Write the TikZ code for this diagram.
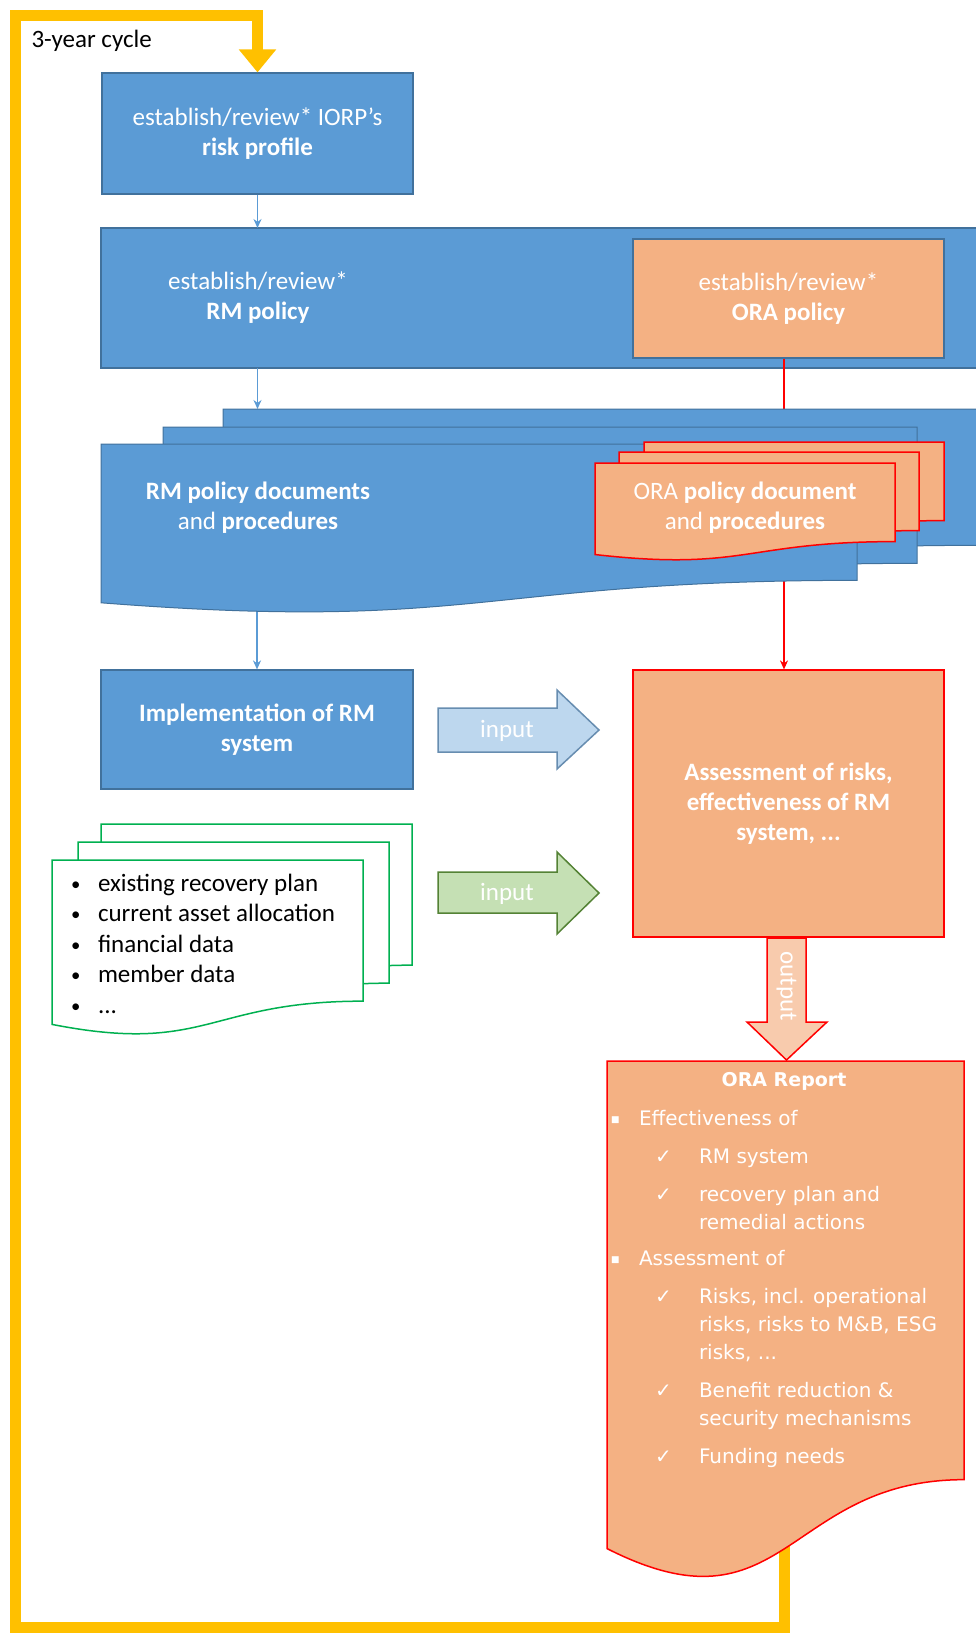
\documentclass[tikz,border=0pt]{standalone}
\usepackage{fontspec}
\setmainfont{Carlito}
\newfontfamily\repfont{DejaVu Sans}
\usetikzlibrary{arrows.meta,calc}

\definecolor{boxblue}{HTML}{5B9BD5}
\definecolor{edgeblue}{HTML}{41719C}
\definecolor{oraorange}{HTML}{F4B183}
\definecolor{paleorange}{HTML}{F8CBAD}
\definecolor{inblue}{HTML}{BDD7EE}
\definecolor{ingreen}{HTML}{C5E0B4}
\definecolor{darkgreen}{HTML}{548235}
\definecolor{docgreen}{HTML}{00B050}
\definecolor{loopyellow}{HTML}{FFC000}

% document outline drawn round a holder node
\newcommand{\docpath}[2]{%
	\path[#1] (#2.north west) -- (#2.north east)
		-- ($(#2.north east)!0.802!(#2.south east)$)
		.. controls ($(#2.north)!0.802!(#2.south)$) and ($(#2.north)!1.1075!(#2.south)$)
		.. ($(#2.north west)!0.934!(#2.south west)$) -- cycle;}
\newcommand{\bul}{\makebox[29pt][l]{\hspace{2pt}\raisebox{1pt}{\scalebox{0.75}{•}}}}
\newcommand{\sqb}{\makebox[32pt][l]{\hspace{4pt}\raisebox{3pt}{\scalebox{0.45}{■}}}}
\newcommand{\chk}{\makebox[92pt][l]{\hspace{48pt}✓}}
\newcommand{\ind}{\hspace*{92pt}}

\begin{document}
\begin{tikzpicture}[x=1pt,y=-1pt,>={Stealth[length=9pt,width=8pt]},
		font=\fontsize{25}{30}\selectfont,
		blue box/.style={rectangle,draw=edgeblue,fill=boxblue,line width=1.2pt,text=white,align=center,inner sep=0pt},
		ora box/.style={rectangle,draw=#1,fill=oraorange,line width=1.2pt,text=white,align=center,inner sep=0pt},
		holder/.style={inner sep=0pt,outer sep=0pt,anchor=north west},
		blue doc/.style={fill=boxblue,draw=edgeblue,line width=1pt},
		ora doc/.style={fill=oraorange,draw=red,line width=1.5pt},
		data doc/.style={fill=white,draw=docgreen,line width=1.5pt},
		blue line/.style={->,draw=boxblue,line width=1.5pt},
		red line/.style={->,draw=red,line width=1.2pt},
		fat arrow/.style={line width=1.5pt,line join=miter},
		loop line/.style={draw=loopyellow,line width=11pt,line join=miter,
			-{Triangle[width=36pt,length=23pt]}}]
	\useasboundingbox (0,0) rectangle (976,1634);
	\clip (0,0) rectangle (976,1634);
	%
	% Boxes of the policy chain.
	\node[blue box,minimum width=311pt,minimum height=121pt] (riskprof) at (257.5,133.5)
		{establish/review* IORP’s\\\textbf{risk profile}};
	\node[blue box,holder,minimum width=899pt,minimum height=140pt] (rmpol) at (101,228) {};
	\node[text=white,align=center] (rmpoltxt) at (258,298) {establish/review*\\\textbf{RM policy}};
	\node[ora box=edgeblue,minimum width=311pt,minimum height=119pt] (orapol) at (788.5,298.5)
		{establish/review*\\\textbf{ORA policy}};
	\coordinate (oracol) at (784,0);
	%
	% Holders for the document shapes.
	\node[holder,minimum width=756pt,minimum height=170pt] (rmdoc3) at (223,409) {};
	\node[holder,minimum width=754pt,minimum height=170pt] (rmdoc2) at (163,427) {};
	\node[holder,minimum width=756pt,minimum height=170pt] (rmdoc1) at (101,444) {};
	\node[holder,minimum width=300pt,minimum height=98pt] (oradoc3) at (644,442) {};
	\node[holder,minimum width=300pt,minimum height=98pt] (oradoc2) at (619,452) {};
	\node[holder,minimum width=300pt,minimum height=98pt] (oradoc1) at (595,463) {};
	\node[holder,minimum width=311pt,minimum height=176pt] (datadoc3) at (101,824) {};
	\node[holder,minimum width=311pt,minimum height=176pt] (datadoc2) at (78,842) {};
	\node[holder,minimum width=311pt,minimum height=176pt] (datadoc1) at (52,860) {};
	\node[holder,minimum width=357pt,minimum height=522pt] (report) at (607,1061) {};
	%
	\node[blue box,minimum width=312pt,minimum height=119pt] (impl) at (257,729.5)
		{\textbf{Implementation of RM}\\\textbf{system}};
	\node[ora box=red,minimum width=311pt,minimum height=267pt] (assess) at (788.5,803.5)
		{\textbf{Assessment of risks,}\\\textbf{effectiveness of RM}\\\textbf{system, ...}};
	%
	% Thin connectors.
	\draw[blue line] (riskprof.south) -- (rmpol.north -| riskprof.south);
	\draw[blue line] (rmpol.south -| riskprof.south) -- (rmdoc3.north -| riskprof.south);
	\draw[red line] (orapol.south -| oracol) -- (oradoc3.north -| oracol);
	\draw[blue line] (rmdoc1.center -| impl.north) -- (impl.north);
	\draw[red line] (oradoc1.center -| oracol) -- (assess.north -| oracol);
	%
	% The 3-year loop.
	\coordinate (loopbl) at (15.5,1627);
	\coordinate (looptop) at (0,15);
	\draw[loop line] (report.center -| oracol) |- (loopbl) |- (looptop -| riskprof.north) -- (riskprof.north);
	\node[anchor=west] (looplbl) at (28,41) {3-year cycle};
	%
	% Document stacks.
	\docpath{blue doc}{rmdoc3}
	\docpath{blue doc}{rmdoc2}
	\docpath{blue doc}{rmdoc1}
	\docpath{ora doc}{oradoc3}
	\docpath{ora doc}{oradoc2}
	\docpath{ora doc}{oradoc1}
	\docpath{data doc}{datadoc3}
	\docpath{data doc}{datadoc2}
	\docpath{data doc}{datadoc1}
	\docpath{ora doc}{report}
	\node[text=white,align=center] (rmdoctxt) at (258,508)
		{\textbf{RM policy documents}\\and \textbf{procedures}};
	\node[text=white,align=center] (oradoctxt) at (745,508)
		{ORA \textbf{policy document}\\and \textbf{procedures}};
	\node[holder,align=left,font=\fontsize{25}{30.5}\selectfont] (datatxt) at (69,874)
		{\bul existing recovery plan\\\bul current asset allocation\\\bul financial data\\
		\bul member data\\\bul ...};
	%
	% Fat input and output arrows.
	\draw[fat arrow,fill=inblue,draw=edgeblue!80] (438,708) -- (557,708) -- (557,690) -- (599,730)
		-- (557,769) -- (557,752) -- (438,752) -- cycle;
	\node[text=white] (inblue) at (507,731) {input};
	\draw[fat arrow,fill=ingreen,draw=darkgreen] (438,872) -- (557,872) -- (557,852) -- (599,893)
		-- (557,934) -- (557,913) -- (438,913) -- cycle;
	\node[text=white] (ingreen) at (507,894) {input};
	\draw[fat arrow,fill=paleorange,draw=red] (767,938) -- (806,938) -- (806,1022) -- (827,1022)
		-- (786.5,1060) -- (747,1022) -- (767,1022) -- cycle;
	\node[text=white,rotate=-90] (outlbl) at (786.5,986) {output};
	%
	% Report text.
	\node[text=white,font=\repfont\fontsize{19}{24}\selectfont\bfseries] (reptitle) at (784,1081) {ORA Report};
	\node[holder,align=left,text=white,font=\repfont\fontsize{20}{28}\selectfont] (reptxt) at (607,1110)
		{\sqb Effectiveness of\\[10pt]
		\chk RM system\\[10pt]
		\chk recovery plan and\\\ind remedial actions\\[8.5pt]
		\sqb Assessment of\\[10pt]
		\chk Risks, incl. operational\\\ind risks, risks to M\&B, ESG\\\ind risks, ...\\[10pt]
		\chk Benefit reduction \&\\\ind security mechanisms\\[10pt]
		\chk Funding needs};
\end{tikzpicture}
\end{document}
